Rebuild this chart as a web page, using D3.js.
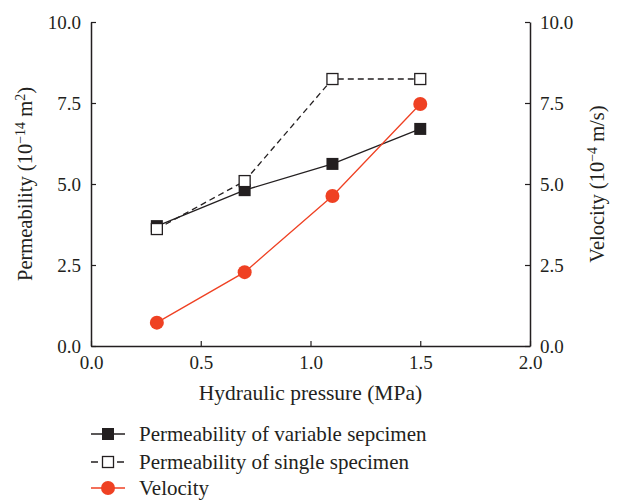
<!DOCTYPE html>
<html>
<head>
<meta charset="utf-8">
<script src="https://cdn.jsdelivr.net/npm/d3@7/dist/d3.min.js"></script>
<style>
  body { margin: 0; background: #fff; }
  text { font-family: "Liberation Serif", "DejaVu Serif", serif; fill: #231f20; }
</style>
</head>
<body>
<svg id="chart" width="619" height="503"></svg>
<script>
// data
var pressure = [0.3, 0.7, 1.1, 1.5];
var permVariable = [3.70, 4.81, 5.62, 6.70];
var permSingle = [3.61, 5.09, 8.24, 8.24];
var velocity = [0.72, 2.28, 4.63, 7.47];
var xTicks = [0, 0.5, 1.0, 1.5, 2.0];
var yTicks = [0, 2.5, 5.0, 7.5, 10.0];
var legendLabels = ["Permeability of variable sepcimen", "Permeability of single specimen", "Velocity"];

var svg = d3.select("#chart");
var plotLeft = 91, plotRight = 530, plotTop = 22, plotBottom = 346;
var ink = "#231f20", red = "#ef4123";

var x = d3.scaleLinear().domain([0, 2]).range([plotLeft, plotRight]);
var yL = d3.scaleLinear().domain([0, 10]).range([plotBottom, plotTop]);
var yR = d3.scaleLinear().domain([0, 10]).range([plotBottom, plotTop]);

// axes, ticks point inward
var fmt = d3.format(".1f");
var gx = svg.append("g").attr("transform", "translate(0," + plotBottom + ")")
  .call(d3.axisBottom(x).tickValues(xTicks).tickFormat(fmt).tickSizeInner(-5).tickSizeOuter(0).tickPadding(10));
var gl = svg.append("g").attr("transform", "translate(" + plotLeft + ",0)")
  .call(d3.axisLeft(yL).tickValues(yTicks).tickFormat(fmt).tickSizeInner(-5).tickSizeOuter(0).tickPadding(10));
var gr = svg.append("g").attr("transform", "translate(" + plotRight + ",0)")
  .call(d3.axisRight(yR).tickValues(yTicks).tickFormat(fmt).tickSizeInner(-5).tickSizeOuter(0).tickPadding(10));
[gx, gl, gr].forEach(function(g){
  g.select(".domain").attr("stroke", ink).attr("stroke-width", 1.5);
  g.selectAll(".tick line").attr("stroke", ink).attr("stroke-width", 1.2);
  g.selectAll(".tick text").attr("font-size", 19).attr("font-family", "Liberation Serif").style("fill", ink);
});

// axis titles
svg.append("text").attr("x", (plotLeft + plotRight) / 2).attr("y", 400).attr("text-anchor", "middle")
  .attr("font-size", 21.5).text("Hydraulic pressure (MPa)");

var tl = svg.append("text").attr("transform", "translate(32," + (plotTop + plotBottom) / 2 + ") rotate(-90)")
  .attr("text-anchor", "middle").attr("font-size", 20.5);
tl.append("tspan").text("Permeability (10");
tl.append("tspan").attr("dy", -7).attr("font-size", 14).text("\u221214");
tl.append("tspan").attr("dy", 7).text(" m");
tl.append("tspan").attr("dy", -7).attr("font-size", 14).text("2");
tl.append("tspan").attr("dy", 7).text(")");

var tr = svg.append("text").attr("transform", "translate(604," + (plotTop + plotBottom) / 2 + ") rotate(-90)")
  .attr("text-anchor", "middle").attr("font-size", 20.5);
tr.append("tspan").text("Velocity (10");
tr.append("tspan").attr("dy", -7).attr("font-size", 14).text("\u22124");
tr.append("tspan").attr("dy", 7).text(" m/s)");

// series
var series = [
  {vals: permVariable, y: yL, color: ink, dash: null, width: 1.3, marker: "filled"},
  {vals: permSingle, y: yL, color: ink, dash: "6,4", width: 1.3, marker: "open"},
  {vals: velocity, y: yR, color: red, dash: null, width: 1.3, marker: "circle"}
];

function drawMarker(g, kind, color) {
  if (kind == "circle") {
    g.append("circle").attr("r", 7).attr("fill", color);
  } else if (kind == "filled") {
    g.append("rect").attr("x", -6).attr("y", -6).attr("width", 12).attr("height", 12).attr("fill", ink);
  } else {
    g.append("rect").attr("x", -5.5).attr("y", -5.5).attr("width", 11).attr("height", 11)
      .attr("fill", "#fff").attr("stroke", ink).attr("stroke-width", 1.3);
  }
}

series.forEach(function(s){
  var line = d3.line().x(function(d, i){ return x(pressure[i]); }).y(function(d){ return s.y(d); });
  svg.append("path").datum(s.vals).attr("d", line).attr("fill", "none")
    .attr("stroke", s.color).attr("stroke-width", s.width).attr("stroke-dasharray", s.dash);
});
series.forEach(function(s){
  s.vals.forEach(function(v, i){
    var g = svg.append("g").attr("transform", "translate(" + x(pressure[i]) + "," + s.y(v) + ")");
    drawMarker(g, s.marker, s.color);
  });
});

// legend
var legY = [434, 462, 488];
series.forEach(function(s, i){
  var g = svg.append("g").attr("transform", "translate(0," + legY[i] + ")");
  g.append("line").attr("x1", 91).attr("x2", 125).attr("stroke", s.color)
    .attr("stroke-width", s.width).attr("stroke-dasharray", s.dash ? "7,6" : null);
  var m = g.append("g").attr("transform", "translate(108,0)");
  drawMarker(m, s.marker, s.color);
  g.append("text").attr("x", 139).attr("y", 7).attr("font-size", 21).text(legendLabels[i]);
});
</script>
</body>
</html>
